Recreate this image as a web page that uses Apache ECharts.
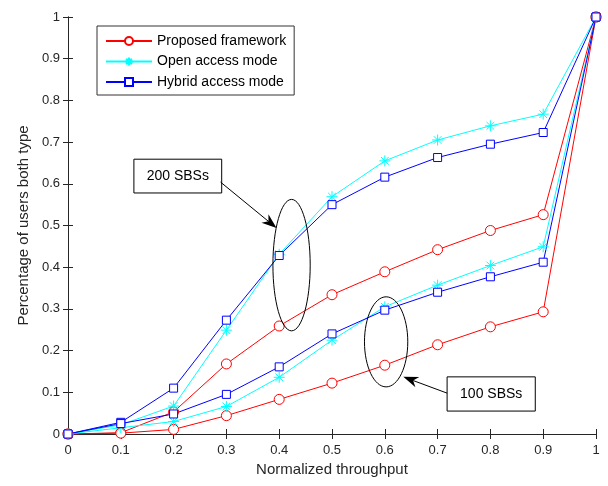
<!DOCTYPE html>
<html><head><meta charset="utf-8">
<script src="https://cdn.jsdelivr.net/npm/echarts@6/dist/echarts.min.js"></script>
<style>html,body{margin:0;padding:0;background:#fff}#c{width:608px;height:486px}</style>
</head><body><div id="c"></div>
<script>
const xCats = [0, 0.1, 0.2, 0.3, 0.4, 0.5, 0.6, 0.7, 0.8, 0.9, 1];
// 200 SBSs
const proposed200 = [0, 0.003, 0.053, 0.168, 0.259, 0.334, 0.389, 0.442, 0.488, 0.526, 1];
const open200     = [0, 0.022, 0.067, 0.249, 0.431, 0.569, 0.655, 0.705, 0.739, 0.767, 1];
const hybrid200   = [0, 0.028, 0.110, 0.273, 0.428, 0.550, 0.616, 0.663, 0.695, 0.723, 1];
// 100 SBSs
const proposed100 = [0, 0.002, 0.011, 0.044, 0.083, 0.122, 0.165, 0.214, 0.257, 0.293, 1];
const open100     = [0, 0.015, 0.030, 0.066, 0.136, 0.225, 0.305, 0.357, 0.404, 0.449, 1];
const hybrid100   = [0, 0.025, 0.048, 0.095, 0.161, 0.240, 0.297, 0.340, 0.377, 0.412, 1];
const names = ['Proposed framework', 'Open access mode', 'Hybrid access mode'];
const yTicks = [0, 0.1, 0.2, 0.3, 0.4, 0.5, 0.6, 0.7, 0.8, 0.9, 1];

const FONT = 'Liberation Sans';
const star = 'path://M0,-10L0,10M-10,0L10,0M-7,-7L7,7M-7,7L7,-7';
const pair = a => a.map((v, i) => [xCats[i], v]);

function mk(name, data, color, symbol, size) {
  return {
    name, type: 'line', data: pair(data), symbol, symbolSize: size,
    showAllSymbol: true, animation: false,
    lineStyle: { color, width: 1 },
    itemStyle: { color: symbol === star ? color : '#fff', borderColor: color, borderWidth: 1 },
    z: 3
  };
}

const chart = echarts.init(document.getElementById('c'), null, { renderer: 'canvas' });
const axisLine = { show: true, lineStyle: { color: '#262626', width: 1 } };
const axisTick = { show: true, inside: true, length: 5, lineStyle: { color: '#262626' } };
chart.setOption({
  backgroundColor: '#fff',
  animation: false,
  grid: { left: 68, right: 12, top: 17, bottom: 52 },
  legend: {
    data: names, orient: 'vertical', left: 97, top: 26,
    padding: [8, 8, 6, 8], itemGap: 6.5, itemWidth: 46, itemHeight: 10,
    backgroundColor: '#fff', borderColor: '#333', borderWidth: 1,
    textStyle: { fontFamily: FONT, fontSize: 14, color: '#000' },
    lineStyle: { width: 2 }
  },
  xAxis: [
    { type: 'value', min: 0, max: 1, interval: 0.1, position: 'bottom',
      axisLine, axisTick, splitLine: { show: false },
      axisLabel: { fontFamily: FONT, fontSize: 13, color: '#262626', margin: 10 },
      name: 'Normalized throughput', nameLocation: 'middle', nameGap: 24,
      nameTextStyle: { fontFamily: FONT, fontSize: 15, color: '#262626' } },
    { type: 'value', min: 0, max: 1, interval: 0.1, position: 'top',
      axisLine, axisTick, axisLabel: { show: false }, splitLine: { show: false } }
  ],
  yAxis: [
    { type: 'value', min: 0, max: 1, interval: 0.1, position: 'left',
      axisLine, axisTick, splitLine: { show: false },
      axisLabel: { fontFamily: FONT, fontSize: 13, color: '#262626', margin: 8 },
      name: 'Percentage of users both type', nameLocation: 'middle', nameGap: 35,
      nameTextStyle: { fontFamily: FONT, fontSize: 15, color: '#262626' } },
    { type: 'value', min: 0, max: 1, interval: 0.1, position: 'right',
      axisLine, axisTick, axisLabel: { show: false }, splitLine: { show: false } }
  ],
  series: [
    mk(names[0], proposed200, '#ff0000', 'circle', 10),
    mk(names[1], open200, '#00ffff', star, 11),
    mk(names[2], hybrid200, '#0000ff', 'rect', 8),
    mk(names[0], proposed100, '#ff0000', 'circle', 10),
    mk(names[1], open100, '#00ffff', star, 11),
    mk(names[2], hybrid100, '#0000ff', 'rect', 8)
  ]
});

// annotations (data coordinates)
const ellipses = [
  { cx: 0.4234, cy: 0.405, rx: 0.0353, ry: 0.1576 },
  { cx: 0.6025, cy: 0.221, rx: 0.041, ry: 0.108 }
];
const boxes = [
  { x0: 0.1248, x1: 0.2911, y0: 0.578, y1: 0.659, text: '200 SBSs' },
  { x0: 0.718, x1: 0.885, y0: 0.055, y1: 0.137, text: '100 SBSs' }
];
const arrows = [
  { from: [0.289, 0.604], to: [0.395, 0.494] },
  { from: [0.718, 0.098], to: [0.635, 0.137] }
];
const P = (x, y) => chart.convertToPixel({ xAxisIndex: 0, yAxisIndex: 0 }, [x, y]);
const g = [];
ellipses.forEach(e => {
  const c = P(e.cx, e.cy), r = P(e.cx + e.rx, e.cy + e.ry);
  g.push({ type: 'ellipse', shape: { cx: c[0], cy: c[1], rx: r[0] - c[0], ry: c[1] - r[1] },
    style: { fill: null, stroke: '#000', lineWidth: 1 }, z: 10 });
});
boxes.forEach(b => {
  const a = P(b.x0, b.y1), d = P(b.x1, b.y0);
  g.push({ type: 'rect', shape: { x: a[0], y: a[1], width: d[0] - a[0], height: d[1] - a[1] },
    style: { fill: '#fff', stroke: '#000', lineWidth: 1 }, z: 10 });
  g.push({ type: 'text', x: (a[0] + d[0]) / 2, y: (a[1] + d[1]) / 2,
    style: { text: b.text, fontFamily: FONT, fontSize: 14, fill: '#000', align: 'center', verticalAlign: 'middle' }, z: 11 });
});
arrows.forEach(ar => {
  const f = P(ar.from[0], ar.from[1]), t = P(ar.to[0], ar.to[1]);
  const dx = t[0] - f[0], dy = t[1] - f[1], L = Math.hypot(dx, dy);
  const ux = dx / L, uy = dy / L, nx = -uy, ny = ux;
  const hl = 15, hw = 5.5;
  const bx = t[0] - ux * hl, by = t[1] - uy * hl;
  const mx = t[0] - ux * hl * 0.7, my = t[1] - uy * hl * 0.7;
  g.push({ type: 'line', shape: { x1: f[0], y1: f[1], x2: mx, y2: my },
    style: { stroke: '#000', lineWidth: 1 }, z: 10 });
  g.push({ type: 'polygon', shape: { points: [t, [bx + nx * hw, by + ny * hw], [mx, my], [bx - nx * hw, by - ny * hw]] },
    style: { fill: '#000' }, z: 10 });
});
chart.setOption({ graphic: g });
</script></body></html>
